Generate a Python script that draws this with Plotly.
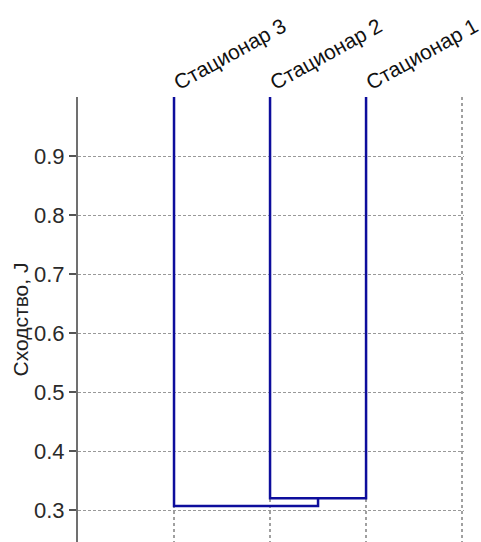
import plotly.graph_objects as go

# Leaves in display order (left to right) and their labels
leaf_labels = ["Стационар 3", "Стационар 2", "Стационар 1"]
leaf_pos = [1, 2, 3]

# Similarity at which clusters join (Jaccard index)
merge_inner = 0.32    # Стационар 2 + Стационар 1
merge_outer = 0.307   # Стационар 3 + (2, 1)
leaf_top = 1.0

y_ticks = [0.3, 0.4, 0.5, 0.6, 0.7, 0.8, 0.9]
y_range = [0.246, 1.0]
x_grid = [1, 2, 3, 4]

line_color = "#0d0d9c"
font_family = "Liberation Sans, Arial, sans-serif"

fig = go.Figure()

# inner cluster: leaves 2 and 3
x_a, x_b = leaf_pos[1], leaf_pos[2]
fig.add_trace(go.Scatter(
    x=[x_a, x_a, x_b, x_b],
    y=[leaf_top, merge_inner, merge_inner, leaf_top],
    mode="lines", line=dict(color=line_color, width=2.5),
    hoverinfo="skip", showlegend=False))

# outer cluster: leaf 1 joined to the midpoint of the inner cluster
x_mid = (x_a + x_b) / 2
x_c = leaf_pos[0]
fig.add_trace(go.Scatter(
    x=[x_c, x_c, x_mid, x_mid],
    y=[leaf_top, merge_outer, merge_outer, merge_inner],
    mode="lines", line=dict(color=line_color, width=2.5),
    hoverinfo="skip", showlegend=False))

fig.update_layout(
    width=481, height=542,
    margin=dict(l=78, r=17, t=97, b=0),
    paper_bgcolor="white", plot_bgcolor="white",
    font=dict(family=font_family, color="#222", size=21),
    xaxis=dict(
        range=[0, 4.02], side="top",
        tickvals=x_grid,
        ticktext=leaf_labels + [""],
        tickangle=-29, ticks="",
        tickfont=dict(size=21, color="#111"),
        ticklabeloverflow="allow",
        showgrid=True, gridcolor="#a0a0a0", griddash="dot", gridwidth=1.5,
        zeroline=False, showline=False, fixedrange=True),
    yaxis=dict(
        range=y_range, tickvals=y_ticks,
        ticktext=[f"{v:.1f}" for v in y_ticks],
        tickfont=dict(size=22, color="#2a2a2a"),
        ticks="outside", ticklen=7, tickcolor="#555", tickwidth=1.5,
        showline=True, linecolor="#707070", linewidth=2,
        showgrid=True, gridcolor="#999999", griddash="3px,2px", gridwidth=1,
        zeroline=False,
        title=dict(text="Сходство, J", font=dict(size=21, color="#222"),
                   standoff=0)),
)

fig.write_html("out.html")
